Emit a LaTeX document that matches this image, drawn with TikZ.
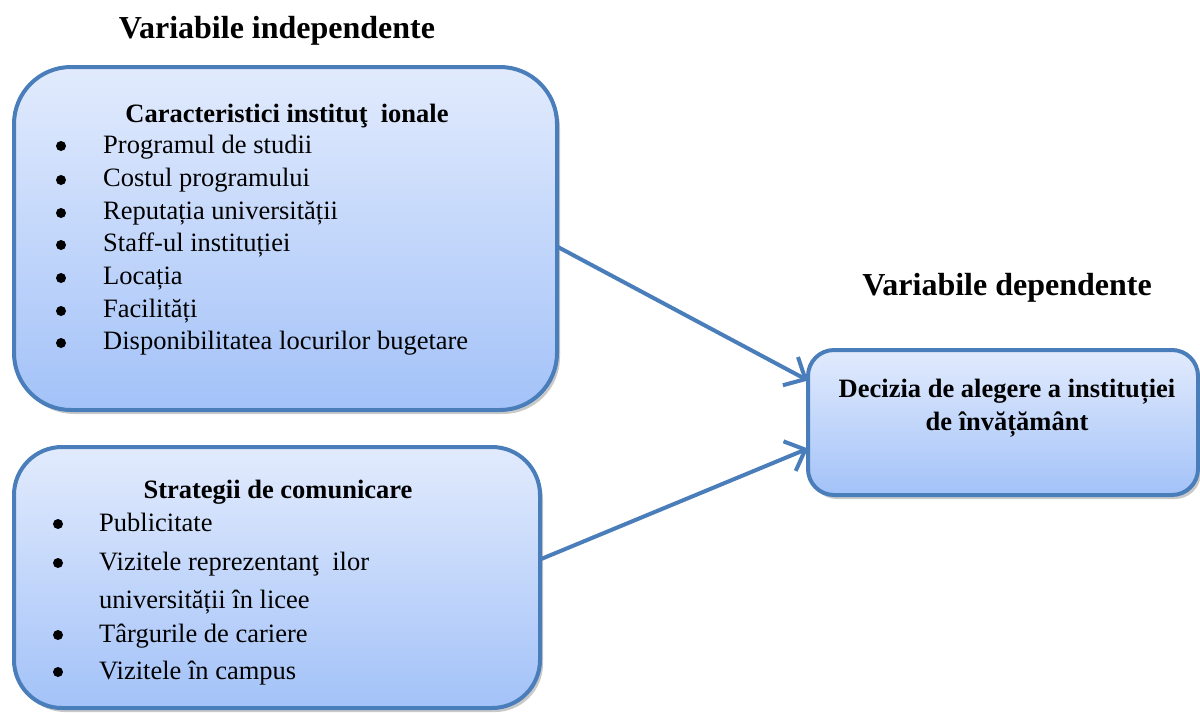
\documentclass[tikz,border=0pt]{standalone}
\usepackage{fontspec}
\setmainfont{Liberation Serif}
\usetikzlibrary{arrows.meta,shadows}
\definecolor{bordblue}{RGB}{74,126,187}
\definecolor{filltop}{RGB}{226,235,253}
\definecolor{fillbot}{RGB}{163,194,248}
\tikzset{
  box/.style={draw=bordblue, line width=4pt, top color=filltop, bottom color=fillbot,
    inner sep=0pt, outer sep=0pt,
    drop shadow={shadow xshift=3pt, shadow yshift=-4pt, opacity=0.3, fill=black!70}},
  arr/.style={draw=bordblue, line width=4pt, -{Straight Barb[length=17pt,width=32pt,line width=4pt]}},
  title/.style={font=\fontsize{32}{36}\selectfont\bfseries, anchor=base, inner sep=0pt},
  head/.style={font=\fontsize{26.5}{32}\selectfont\bfseries, anchor=base, inner sep=0pt},
  itm/.style={font=\fontsize{26.5}{32}\selectfont, anchor=base west, inner sep=0pt},
  bul/.style={circle, fill=black, inner sep=0pt, minimum size=10pt},
}
\begin{document}
\begin{tikzpicture}[x=1pt,y=-1pt]
\useasboundingbox (0,0) rectangle (1200,713);
% titles
\node[title] (t1) at (277,38) {Variabile independente};
\node[title] (t2) at (1007,295) {Variabile dependente};
% boxes
\node[box, rounded corners=57pt, minimum width=543pt, minimum height=343pt] (box1) at (285.5,238.5) {};
\node[box, rounded corners=48pt, minimum width=526pt, minimum height=261pt] (box2) at (277,577.5) {};
\node[box, rounded corners=26pt, minimum width=390pt, minimum height=145pt] (box3) at (1003,422.5) {};
% box 1 text
\node[head] (h1) at (287,122) {Caracteristici instituţ\ \ ionale};
\node[bul] (d11) at (61,146) {}; \node[itm] (i11) at (103,153) {Programul de studii};
\node[bul] (d12) at (61,180) {}; \node[itm] (i12) at (103,186) {Costul programului};
\node[bul] (d13) at (61,213) {}; \node[itm] (i13) at (103,219) {Reputația universității};
\node[bul] (d14) at (61,245) {}; \node[itm] (i14) at (103,251) {Staff-ul instituției};
\node[bul] (d15) at (61,278) {}; \node[itm] (i15) at (103,284) {Locația};
\node[bul] (d16) at (61,311) {}; \node[itm] (i16) at (103,317) {Facilități};
\node[bul] (d17) at (61,343) {}; \node[itm] (i17) at (103,349) {Disponibilitatea locurilor bugetare};
% box 2 text
\node[head] (h2) at (278,498) {Strategii de comunicare};
\node[bul] (d21) at (58,524) {}; \node[itm] (i21) at (99,531) {Publicitate};
\node[bul] (d22) at (58,563) {}; \node[itm] (i22) at (99,570) {Vizitele reprezentanţ\ \ ilor};
\node[itm] (i23) at (99,608) {universității în licee};
\node[bul] (d24) at (58,635) {}; \node[itm] (i24) at (99,642) {Târgurile de cariere};
\node[bul] (d25) at (58,672) {}; \node[itm] (i25) at (99,679) {Vizitele în campus};
% box 3 text
\node[head] (h31) at (1007,397) {Decizia de alegere a instituției};
\node[head] (h32) at (1007,430) {de învățământ};
% arrows
\draw[arr] ([yshift=-8pt]box1.east) -- ([yshift=42pt]box3.west);
\draw[arr] ([yshift=18pt]box2.east) -- ([yshift=-26pt]box3.west);
\end{tikzpicture}
\end{document}
